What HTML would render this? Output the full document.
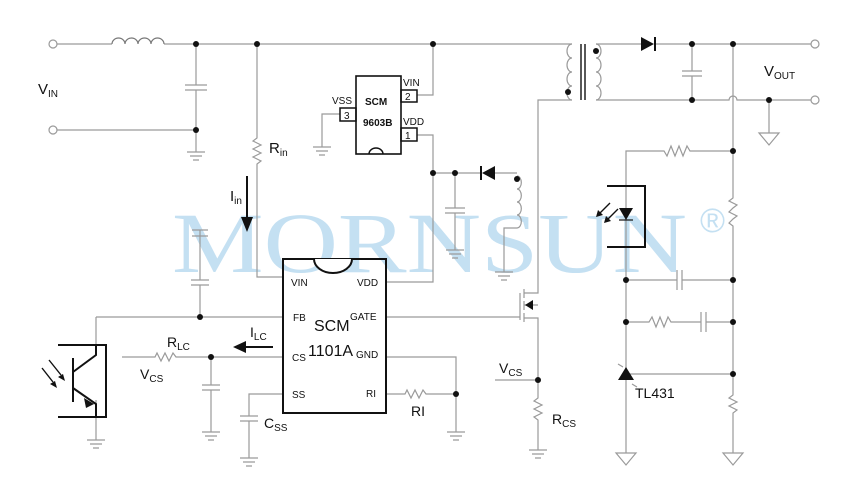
<!DOCTYPE html>
<html><head><meta charset="utf-8"><style>
html,body{margin:0;padding:0;background:#fff;width:863px;height:496px;overflow:hidden}
svg{display:block}
text{font-family:"Liberation Sans",Arial,sans-serif;fill:#111}
text.wm{font-family:"Liberation Serif","DejaVu Serif",serif;fill:#c4e0f2}
</style></head><body>
<svg width="863" height="496" viewBox="0 0 863 496" xmlns="http://www.w3.org/2000/svg">
<text class="wm" x="172" y="272" font-size="86" textLength="515" lengthAdjust="spacingAndGlyphs">MORNSUN</text>
<text x="700" y="232" font-size="34" style="fill:#c4e0f2">®</text>
<g stroke="#9a9a9a" stroke-width="1.2" fill="none">
<circle cx="53" cy="44" r="4"/><circle cx="53" cy="130" r="4"/>
<path d="M57 44H112M164 44H572"/>
<path d="M112 44a6.5 6 0 0 1 13 0a6.5 6 0 0 1 13 0a6.5 6 0 0 1 13 0a6.5 6 0 0 1 13 0" stroke="#777"/>
<path d="M57 130H196M196 44V85M185 85H207M185 90H207M196 90V152M187 152H205M190 156H202M193 160H199"/>
<path d="M257 44V138l-4 3l8 4l-8 4l8 4l-8 4l8 4l-4 3V277H283"/>
<path d="M417 95H433V44M417 135H433V282H386"/>
<path d="M340 114H322V147M313 147H331M316 151H328M319 155H325"/>
<path d="M433 173H481M495 173H517"/>
<path d="M517 176a4 6 0 0 1 0 13a4 6 0 0 1 0 13a4 6 0 0 1 0 13a4 6 0 0 1 0 13"/>
<path d="M517 228H504V272M495 272H513M498 276H510M501 280H507"/>
<path d="M455 173V208M445 208H465M445 213H465M455 213V250M446 250H464M449 254H461M452 258H458"/>
<path d="M572 44a5 7 0 0 0 0 14a5 7 0 0 0 0 14a5 7 0 0 0 0 14a5 7 0 0 0 0 14"/>
<path d="M572 100H538V293H524"/>
<path d="M596 44a5 7 0 0 1 0 14a5 7 0 0 1 0 14a5 7 0 0 1 0 14a5 7 0 0 1 0 14"/>
<path d="M596 44H641M654 44H811M692 44V71M682 71H702M682 76H702M692 76V100M596 100H729a4 4 0 0 1 8 0H811M769 100V133"/>
<path d="M759 133H779L769 145Z"/>
<circle cx="815" cy="44" r="4"/><circle cx="815" cy="100" r="4"/>
<path d="M733 44V198l-4 3l8 4l-4 3l-4 4l8 4l-4 3l-4 4l4 3V395l-4 3l8 4l-8 4l8 4l-4 3V453"/>
<path d="M723 453H743L733 465Z"/>
<path d="M733 151H690l-3-5l-4 10l-4-10l-4 10l-4-10l-4 10l-3-5H626V453M616 453H636L626 465Z"/>
<path d="M626 280H677M682 280H733M677 270V290M682 270V290"/>
<path d="M626 322H649l3-5l4 10l4-10l4 10l4-10l3 5H701M706 322H733M701 312V332M706 312V332"/>
<path d="M626 374H733M618 364l5 3M632 384l5 3"/>
<path d="M386 317H520M520 293V320M524 289V298M524 301V310M524 313V322M524 318H538V380V398l-4 3l8 4l-8 4l8 4l-8 4l4 3V450M529 450H547M532 454H544M535 458H541M524 305H538M495 380H538"/>
<path d="M200 230V280M191 280H209M191 285H209M200 285V317M192 230H208M192 236H208M96 317H283M96 317V345M96 400V440M87 440H105M90 444H102M93 448H99"/>
<path d="M122 357H155l2-4l4 8l4-8l4 8l4-8l3 4H283M211 357V385M202 385H220M202 390H220M211 390V432M202 432H220M205 436H217M208 440H214"/>
<path d="M283 394H249V416M240 416H258M240 421H258M249 421V458M240 458H258M243 462H255M246 466H252"/>
<path d="M386 357H456V432M447 432H465M450 436H462M453 440H459M386 394H405l2-4l4 8l4-8l4 8l4-8l3 4H456"/>
</g>
<g stroke="#111" stroke-width="2" fill="none">
<rect x="283" y="259" width="103" height="154"/>
<path d="M314 259a19 14 0 0 0 38 0" fill="#fff"/>
<rect x="356" y="76" width="45" height="78" stroke-width="1.6"/>
<path d="M369 154a7 6 0 0 1 14 0" stroke-width="1.5"/>
<rect x="401" y="90" width="16" height="12" stroke-width="1.5"/>
<rect x="401" y="128" width="16" height="13" stroke-width="1.5"/>
<rect x="340" y="108" width="16" height="13" stroke-width="1.5"/>
<path d="M581 44V100M585 44V100" stroke-width="1.4"/>
<path d="M58 345H106V417H58M73 358V402M73 372L96 355V345M73 388L96 404V417" stroke-width="2"/>
<path d="M607 186H645V247H607" stroke-width="2"/>
<path d="M247 176V220M273 347H245"/>
<path d="M610 203l-12 12M618 209l-12 12" stroke-width="1.4"/>
<path d="M42 368l11 14M49 360l12 15" stroke-width="1.4"/>
<path d="M619 220H633" stroke-width="1.2"/>
</g>
<g fill="#111" stroke="none">
<path d="M641 37V51L654 44Z"/><rect x="654" y="37" width="2" height="14"/>
<path d="M495 166V180L482 173Z"/><rect x="480" y="166" width="2" height="14"/>
<path d="M619 208H633L626 220Z"/><path d="M618 380H634L626 367Z"/>
<path d="M241 217H253L247 232Z"/><path d="M233 347L246 341V353Z"/>
<path d="M525 305L533 300V310Z"/>
<path d="M84 398L94 404L86 408Z"/>
<path d="M596 217l2-7l5 5Z"/><path d="M604 223l2-7l5 5Z"/>
<path d="M57 388l-7-4l5-3Z"/><path d="M65 381l-7-4l5-3Z"/>
<circle cx="196" cy="44" r="3"/><circle cx="257" cy="44" r="3"/><circle cx="433" cy="44" r="3"/>
<circle cx="196" cy="130" r="3"/><circle cx="433" cy="173" r="3"/><circle cx="455" cy="173" r="3"/>
<circle cx="517" cy="179" r="3"/><circle cx="568" cy="92" r="3"/><circle cx="596" cy="51" r="3"/>
<circle cx="692" cy="44" r="3"/><circle cx="733" cy="44" r="3"/><circle cx="692" cy="100" r="3"/><circle cx="769" cy="100" r="3"/>
<circle cx="733" cy="151" r="3"/><circle cx="626" cy="280" r="3"/><circle cx="733" cy="280" r="3"/>
<circle cx="626" cy="322" r="3"/><circle cx="733" cy="322" r="3"/><circle cx="733" cy="374" r="3"/>
<circle cx="200" cy="317" r="3"/><circle cx="211" cy="357" r="3"/><circle cx="456" cy="394" r="3"/><circle cx="538" cy="380" r="3"/>
</g>
<g font-size="15">
<text x="38" y="94">V<tspan font-size="10" dy="3">IN</tspan></text>
<text x="764" y="76">V<tspan font-size="10" dy="3">OUT</tspan></text>
<text x="269" y="153">R<tspan font-size="10" dy="3">in</tspan></text>
<text x="230" y="201">I<tspan font-size="10" dy="3">in</tspan></text>
<text x="250" y="337" font-size="14">I<tspan font-size="10" dy="3">LC</tspan></text>
<text x="167" y="347" font-size="14">R<tspan font-size="10" dy="3">LC</tspan></text>
<text x="140" y="379" font-size="14">V<tspan font-size="10" dy="3">CS</tspan></text>
<text x="264" y="428" font-size="14">C<tspan font-size="10" dy="3">SS</tspan></text>
<text x="411" y="416" font-size="14">RI</text>
<text x="499" y="373" font-size="14">V<tspan font-size="10" dy="3">CS</tspan></text>
<text x="552" y="424" font-size="14">R<tspan font-size="10" dy="3">CS</tspan></text>
<text x="635" y="398" font-size="14">TL431</text>
</g>
<g font-size="10">
<text x="291" y="286">VIN</text><text x="357" y="286">VDD</text>
<text x="293" y="321">FB</text><text x="350" y="320">GATE</text>
<text x="292" y="361">CS</text><text x="356" y="358">GND</text>
<text x="292" y="398">SS</text><text x="366" y="397">RI</text>
<text x="314" y="331" font-size="16">SCM</text>
<text x="308" y="356" font-size="16">1101A</text>
<text x="403" y="86">VIN</text><text x="403" y="125">VDD</text><text x="332" y="104">VSS</text>
<text x="405" y="100">2</text><text x="405" y="139">1</text><text x="344" y="119">3</text>
<text x="365" y="105" font-weight="bold">SCM</text>
<text x="363" y="126" font-weight="bold">9603B</text>
</g>
</svg>
</body></html>
